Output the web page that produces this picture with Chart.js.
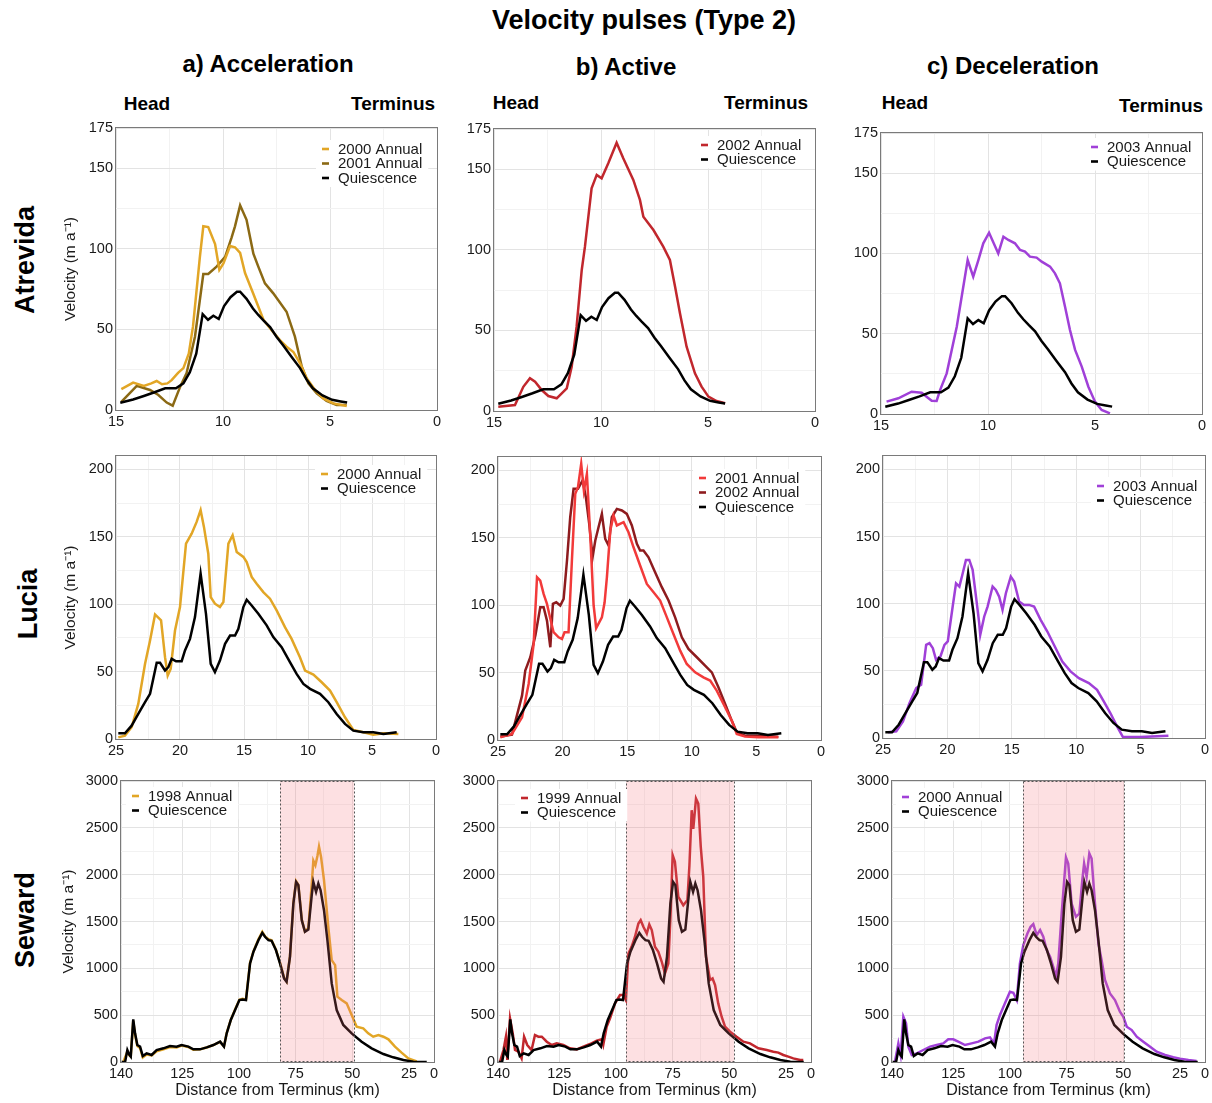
<!DOCTYPE html>
<html>
<head>
<meta charset="utf-8">
<script src="https://cdn.jsdelivr.net/npm/chart.js@4.4.1/dist/chart.umd.min.js"></script>
<style>
  body { margin: 0; background: #fff; }
  #fig { position: relative; width: 1212px; height: 1103px; overflow: hidden;
         font-family: "Liberation Sans", Arimo, Arial, sans-serif; color: #000; }
  .lbl { position: absolute; font-weight: bold; white-space: nowrap; transform: translate(-50%, -50%); }
  .side { transform: translate(-50%, -50%) rotate(-90deg); font-size: 27px; }
  canvas { position: absolute; }
</style>
</head>
<body>
<div id="fig">
  <div class="lbl" style="left:644px;top:20px;font-size:27px">Velocity pulses (Type 2)</div>
  <div class="lbl" style="left:268px;top:64px;font-size:24px">a) Acceleration</div>
  <div class="lbl" style="left:626px;top:67px;font-size:24px">b) Active</div>
  <div class="lbl" style="left:1013px;top:66px;font-size:24px">c) Deceleration</div>
  <div class="lbl" style="left:147px;top:104px;font-size:19px">Head</div>
  <div class="lbl" style="left:393px;top:104px;font-size:19px">Terminus</div>
  <div class="lbl" style="left:516px;top:103px;font-size:19px">Head</div>
  <div class="lbl" style="left:766px;top:103px;font-size:19px">Terminus</div>
  <div class="lbl" style="left:905px;top:103px;font-size:19px">Head</div>
  <div class="lbl" style="left:1161px;top:106px;font-size:19px">Terminus</div>
  <div class="lbl side" style="left:25px;top:260px">Atrevida</div>
  <div class="lbl side" style="left:28px;top:604px">Lucia</div>
  <div class="lbl side" style="left:25px;top:920px">Seward</div>
</div>
<script>
const fontFamily = '"Liberation Sans", Arimo, Arial, sans-serif';

// ---------- Atrevida (distance from terminus in km, velocity in m/a) ----------
const atrevidaQuiescenceKm = [14.8, 14.2, 13.7, 13.2, 12.7, 12.2, 11.85, 11.55, 11.25, 10.95, 10.7, 10.45, 10.2, 9.95, 9.65, 9.35, 9.2, 8.9, 8.6, 8.35, 8.1, 7.8, 7.5, 7.2, 6.8, 6.4, 6.1, 5.8, 5.35, 4.9, 4.5, 4.2];
const atrevidaQuiescenceVel = [4.5, 6.5, 8.7, 11, 13.5, 13.5, 16.5, 23.5, 35, 59.5, 56, 58.5, 56.5, 64.5, 70, 73.4, 73.4, 69, 63, 59, 55.5, 51.5, 45.5, 40.3, 33, 26, 19, 13.5, 9, 6.3, 5.3, 4.6];

const atrevida2000Km = [14.75, 14.2, 13.7, 13.35, 13.1, 12.85, 12.6, 12.4, 12.1, 11.85, 11.6, 11.4, 11.08, 10.92, 10.69, 10.37, 10.17, 9.98, 9.67, 9.44, 9.2, 8.97, 8.58, 8.11, 7.73, 7.34, 7.03, 6.71, 6.4, 6.09, 5.7, 5.31, 4.84, 4.22];
const atrevida2000Vel = [13, 17, 15, 16.5, 18, 16, 16.5, 18.5, 23, 26, 35, 52, 95, 114, 113.5, 103, 87, 91, 101.8, 101, 97.5, 85, 72, 56, 49.5, 43.4, 39.3, 36, 29, 19.7, 12.4, 7.2, 4.1, 2.5];

const atrevida2001Km = [14.75, 14.03, 13.41, 13.02, 12.63, 12.35, 12.0, 11.7, 11.31, 10.92, 10.69, 10.3, 9.9, 9.6, 9.44, 9.2, 8.9, 8.58, 8.35, 8.04, 7.65, 7.03, 6.64, 6.32, 6.01, 5.62, 5.16, 4.69, 4.22];
const atrevida2001Vel = [5, 15, 12.4, 9.3, 4.6, 2.7, 14.5, 23, 45.5, 84.4, 84.4, 89, 95, 107, 114, 127, 118, 97, 89, 78.6, 72.4, 61, 45.5, 27, 16.5, 10.3, 5.6, 3.1, 3.1];

const atrevida2002Km = [14.8, 14.02, 13.63, 13.32, 13.08, 12.77, 12.46, 12.07, 11.6, 11.37, 11.14, 10.9, 10.75, 10.44, 10.2, 9.97, 9.66, 9.27, 8.96, 8.49, 8.18, 8.02, 7.55, 7.09, 6.78, 6.54, 6.31, 6.0, 5.61, 5.3, 4.98, 4.6, 4.2];
const atrevida2002Vel = [2.7, 3.7, 15, 20.3, 18.2, 13, 9.3, 7.9, 14.1, 27.5, 52.3, 87.5, 102, 138.2, 146.5, 144.4, 153.7, 166.5, 156.8, 143.4, 131, 120.6, 112.3, 102, 93.7, 77.2, 60.6, 39.9, 23.4, 15.1, 8.9, 6.2, 4.8];

const atrevida2003Km = [14.74, 14.19, 13.57, 13.1, 12.87, 12.63, 12.4, 12.24, 11.93, 11.46, 10.95, 10.69, 10.45, 10.22, 9.95, 9.52, 9.28, 9.05, 8.74, 8.5, 8.27, 8.04, 7.73, 7.49, 7.1, 6.87, 6.64, 6.4, 6.17, 5.93, 5.62, 5.31, 5.0, 4.69, 4.3];
const atrevida2003Vel = [7.7, 9.8, 13.9, 13.3, 10.8, 8.3, 8.1, 14.9, 25.3, 54.4, 95.9, 85.5, 95.9, 106.3, 112.9, 100, 110.4, 108.4, 106.3, 102.1, 101.1, 98, 97.4, 94.9, 91.8, 87.6, 81.4, 66.8, 52.3, 39.9, 29.5, 17, 7.7, 2.5, 0.4];

// ---------- Lucia ----------
const luciaQuiescenceKm = [24.82, 24.3, 23.78, 23.26, 22.73, 22.34, 22.08, 21.82, 21.56, 21.17, 20.91, 20.65, 20.31, 19.87, 19.61, 19.22, 18.83, 18.39, 17.97, 17.6, 17.27, 16.88, 16.48, 16.09, 15.7, 15.44, 15.05, 14.79, 14.4, 13.88, 13.23, 12.71, 12.06, 11.41, 10.89, 10.36, 9.84, 9.06, 8.41, 7.76, 7.11, 6.46, 5.68, 4.9, 4.11, 3.07];
const luciaQuiescenceVel = [4.2, 4.2, 9.9, 18.6, 27.3, 33.5, 45, 56.5, 56.5, 50.8, 53.3, 59.5, 57.7, 57.7, 65.7, 74.3, 90.5, 122.7, 92.9, 55.8, 49.6, 58.2, 70.6, 76.8, 76.8, 81.8, 97.9, 103.3, 99.1, 92.9, 84.3, 75.6, 68.2, 57, 48.3, 40.9, 37.2, 33.5, 27.3, 18.6, 11.2, 6.2, 5, 5, 3.7, 5];

const lucia2000Km = [24.82, 24.3, 23.78, 23.26, 22.73, 22.34, 21.95, 21.48, 21.17, 20.96, 20.73, 20.39, 20.0, 19.53, 19.09, 18.7, 18.39, 18.13, 17.79, 17.6, 17.27, 16.88, 16.61, 16.22, 15.89, 15.57, 15.05, 14.79, 14.4, 14.01, 13.49, 12.97, 12.45, 11.8, 11.28, 10.63, 10.23, 9.58, 8.93, 8.28, 7.76, 7.11, 6.46, 5.68, 4.9, 4.11, 2.94];
const lucia2000Vel = [1.2, 2.5, 8.7, 26, 55.8, 73.1, 92.4, 88, 60.7, 47.1, 52, 80.5, 97.9, 145, 152.4, 161.1, 169.8, 157.4, 137.5, 105.3, 100.4, 97.9, 101.6, 145, 151.2, 138.8, 135.1, 131.3, 120.2, 115.2, 109, 104.1, 95.4, 83, 74.3, 60.7, 50.8, 47.8, 42.1, 35.9, 27.3, 16.1, 6.7, 5, 3.2, 4.2, 3.7];

const lucia2001Km = [24.82, 23.92, 23.14, 22.63, 22.24, 21.98, 21.73, 21.47, 21.21, 20.95, 20.7, 20.31, 20.05, 19.85, 19.54, 19.28, 19.02, 18.81, 18.56, 18.35, 18.12, 17.85, 17.6, 17.4, 16.96, 16.75, 16.57, 16.31, 16.06, 15.8, 15.28, 14.9, 14.51, 14.0, 13.48, 12.96, 12.45, 11.93, 11.42, 10.9, 10.39, 9.74, 9.1, 8.58, 8.07, 7.42, 6.91, 6.52, 5.88, 4.85, 3.3];
const lucia2001Vel = [2, 4.5, 16.8, 41.6, 71.3, 120.8, 118.3, 108.4, 101, 89.9, 80, 76.2, 75, 80, 80, 133.2, 182.7, 187.6, 205, 185, 197.5, 150, 100, 83, 91, 102, 120.8, 155.4, 166.6, 159.2, 161.6, 154.2, 143, 129.5, 115.8, 109.7, 103.5, 91, 78.7, 66.3, 56.4, 50.2, 46.5, 44.1, 36.6, 24.3, 14.4, 4.5, 2.5, 2, 2];

const lucia2002Km = [24.82, 23.92, 23.14, 22.89, 22.5, 22.1, 21.73, 21.47, 21.21, 20.95, 20.75, 20.49, 20.18, 19.92, 19.66, 19.41, 19.15, 18.81, 18.45, 18.2, 17.94, 17.68, 17.47, 17.22, 16.96, 16.7, 16.44, 16.19, 15.8, 15.41, 15.03, 14.64, 14.25, 14.0, 13.74, 13.35, 12.84, 12.32, 11.8, 11.29, 10.77, 10.26, 9.61, 8.97, 8.45, 7.94, 7.42, 6.91, 6.52, 5.88, 4.85, 3.3];
const lucia2002Vel = [2.5, 4, 32.9, 51.5, 61.4, 78, 98.5, 98.5, 88.6, 68.8, 101, 102.2, 99.8, 104.7, 133.2, 165.3, 186.4, 186.4, 192.6, 180.2, 160.4, 135.6, 148, 157.9, 167.8, 149.3, 144.3, 165.3, 171.5, 170.3, 167.8, 159.2, 145.5, 140.6, 140.6, 135.6, 124.5, 113.4, 103.5, 91, 76.2, 67.6, 61.4, 55.2, 50.2, 39.1, 26.7, 14.4, 5.7, 3.2, 3.2, 2.5];

const lucia2003Km = [24.61, 23.97, 23.45, 22.94, 22.42, 22.04, 21.65, 21.39, 21.13, 20.88, 20.54, 20.23, 19.97, 19.59, 19.33, 19.07, 18.81, 18.56, 18.3, 18.04, 17.78, 17.53, 17.45, 17.14, 16.88, 16.49, 16.24, 15.98, 15.72, 15.46, 15.08, 14.82, 14.43, 14.05, 13.66, 13.27, 12.76, 12.24, 11.73, 11.08, 10.44, 9.79, 9.02, 8.38, 7.86, 7.35, 6.83, 6.37, 5.03, 2.84];
const lucia2003Vel = [4.2, 5, 12.4, 26, 37.2, 39.7, 69.4, 70.6, 66.9, 58.2, 60.7, 69.4, 71.9, 97.9, 115.2, 112.8, 122.7, 132.6, 132.6, 125.2, 105.3, 85.5, 76.8, 90.5, 97.9, 112.8, 110.3, 105.3, 95.4, 107.8, 120.2, 116.5, 101.6, 99.1, 99.1, 97.9, 88, 79.3, 69.4, 57, 49.6, 44.6, 40.9, 35.9, 27.3, 18.6, 8.7, 0.7, 0.7, 1.7];

// ---------- Seward ----------
const sewardQuiescenceKm = [151.7, 150.2, 149.2, 148.3, 147.7, 146.6, 145.8, 144.8, 143.6, 142.4, 140.7, 138.5, 136.3, 133.3, 130.4, 127.5, 125.3, 122.3, 120.1, 117.2, 114.2, 111.3, 108.3, 106.6, 105.4, 103.6, 101.7, 99.8, 98.4, 96.9, 95.1, 93.6, 91.4, 89.7, 88.5, 87.0, 85.6, 83.7, 81.9, 80.1, 79.0, 77.5, 76.0, 74.8, 73.8, 72.3, 70.9, 69.4, 67.9, 67.2, 66.0, 65.0, 64.0, 62.5, 61.0, 59.1, 56.9, 54.0, 50.3, 45.9, 41.5, 36.3, 32.0, 27.5, 23.1, 17.2];
const sewardQuiescenceVel = [0, 0, 128, 75, 57, 455, 306, 181, 164, 64, 92, 75, 128, 146, 171, 164, 181, 164, 135, 135, 156, 181, 217, 164, 306, 448, 555, 661, 668, 661, 1052, 1177, 1301, 1379, 1337, 1301, 1294, 1195, 1052, 892, 857, 1123, 1692, 1923, 1888, 1514, 1390, 1415, 1781, 1923, 1817, 1905, 1834, 1621, 1301, 839, 555, 395, 306, 217, 146, 85, 50, 21, 4, 0];

const seward1998Km = [151.0, 149.2, 148.3, 147.7, 146.6, 145.8, 144.8, 143.6, 142.4, 140.7, 138.5, 136.3, 133.3, 130.4, 127.5, 125.3, 122.3, 120.1, 117.2, 114.2, 111.3, 108.3, 106.6, 105.4, 103.6, 101.7, 99.8, 98.4, 96.9, 95.1, 93.6, 91.4, 89.7, 88.5, 87.0, 85.6, 83.7, 81.9, 80.1, 79.0, 77.5, 76.0, 74.8, 73.8, 72.3, 70.9, 69.4, 67.9, 67.2, 66.3, 65.4, 64.7, 63.8, 62.5, 60.6, 59.1, 57.6, 56.6, 54.7, 52.5, 50.3, 48.1, 45.2, 43.0, 40.8, 38.5, 36.3, 34.1, 31.2, 28.3, 25.3, 21.6];
const seward1998Vel = [0, 110, 70, 60, 440, 290, 170, 150, 50, 80, 70, 115, 135, 160, 155, 175, 160, 130, 135, 155, 180, 215, 165, 310, 450, 560, 665, 675, 665, 1060, 1180, 1310, 1390, 1340, 1310, 1300, 1200, 1060, 900, 860, 1130, 1700, 1930, 1890, 1520, 1395, 1430, 1900, 2150, 2100, 2200, 2300, 2190, 1941, 1443, 1088, 1034, 697, 661, 626, 501, 377, 359, 306, 270, 288, 270, 242, 164, 100, 39, 7];

const seward1999Km = [151.1, 149.6, 148.5, 147.9, 146.7, 145.5, 144.5, 143.0, 141.6, 140.5, 139.1, 137.2, 135.7, 134.2, 132.7, 130.5, 128.3, 126.1, 123.2, 120.3, 117.3, 114.4, 111.4, 108.5, 106.3, 105.6, 104.1, 102.6, 100.4, 98.2, 96.7, 95.6, 94.5, 93.1, 91.6, 90.1, 89.1, 87.9, 86.4, 85.3, 84.2, 82.8, 81.3, 79.8, 78.4, 76.9, 75.9, 75.0, 74.0, 72.5, 70.3, 68.5, 67.6, 66.6, 65.9, 64.7, 63.7, 62.6, 61.5, 60.3, 58.5, 57.4, 56.3, 54.9, 53.4, 51.9, 49.7, 46.8, 43.8, 40.9, 37.2, 33.5, 30.6, 28.4, 26.2, 24.0, 21.8, 18.8, 17.4];
const seward1999Vel = [4, 128, 270, 21, 466, 306, 128, 110, 39, 270, 181, 128, 288, 270, 270, 217, 181, 199, 181, 146, 135, 164, 192, 228, 242, 181, 377, 466, 626, 715, 715, 661, 1159, 1230, 1337, 1479, 1514, 1443, 1372, 1468, 1408, 1230, 1177, 1070, 946, 1052, 1585, 2208, 2137, 1763, 1674, 1728, 2100, 2688, 2490, 2812, 2760, 2297, 1977, 1123, 875, 892, 821, 626, 483, 377, 324, 270, 217, 199, 146, 128, 110, 100, 75, 57, 39, 21, 21];

const seward2000Km = [150.7, 149.2, 148.2, 147.0, 145.8, 144.8, 143.3, 141.1, 138.2, 135.2, 132.3, 129.4, 127.2, 125.0, 122.8, 119.8, 116.9, 113.9, 111.0, 108.8, 107.0, 105.9, 104.4, 102.2, 100.0, 98.5, 97.0, 95.6, 94.1, 92.3, 90.9, 89.7, 88.2, 86.7, 85.3, 83.8, 82.3, 80.9, 79.7, 78.7, 77.2, 75.3, 74.3, 72.8, 70.9, 69.4, 68.1, 67.3, 66.2, 65.0, 64.0, 62.5, 61.0, 59.6, 58.1, 55.9, 53.7, 51.5, 50.0, 48.5, 46.3, 44.1, 41.2, 38.2, 35.3, 31.6, 28.0, 25.0, 21.3, 17.7];
const seward2000Vel = [4, 199, 75, 483, 412, 164, 75, 92, 128, 164, 181, 199, 242, 242, 217, 181, 199, 217, 252, 263, 199, 395, 501, 626, 750, 739, 661, 1052, 1248, 1372, 1443, 1472, 1354, 1408, 1337, 1195, 1123, 1017, 910, 1052, 1585, 2183, 2119, 1692, 1550, 1585, 1941, 2119, 1977, 2226, 2172, 1692, 1266, 1088, 875, 732, 661, 537, 483, 377, 341, 270, 217, 164, 110, 75, 50, 36, 21, 11];

// pulse zones shaded on the Seward panels (km from terminus)
const sewardZone1998 = [82, 49.3];
const sewardZone1999 = [95.6, 47.9];
const sewardZone2000 = [94.4, 49.7];

// ---------- axis ticks ----------
const atrevidaXTicks = [15, 10, 5, 0];
const atrevidaXMinor = [12.5, 7.5, 2.5];
const atrevidaYTicks = [0, 50, 100, 150, 175];
const atrevidaYMinor = [25, 75, 125];

const luciaXTicks = [25, 20, 15, 10, 5, 0];
const luciaXMinor = [22.5, 17.5, 12.5, 7.5, 2.5];
const luciaYTicks = [0, 50, 100, 150, 200];
const luciaYMinor = [25, 75, 125, 175];

// the outermost Seward labels sit on the panel edges
const sewardXRange = [14, 152];
const sewardXTicks = [152, 125, 100, 75, 50, 25, 14];
const sewardXLabels = ['140', '125', '100', '75', '50', '25', '0'];
const sewardXMinor = [137.5, 112.5, 87.5, 62.5, 37.5];
const sewardYTicks = [0, 500, 1000, 1500, 2000, 2500, 3000];
const sewardYMinor = [250, 750, 1250, 1750, 2250, 2750];

const black = '#000000';
const gold = '#E2A626';
const darkGold = '#8B6914';
const red = '#C1272D';
const brightRed = '#F23A3A';
const darkRed = '#8E1B1E';
const purple = '#A040D8';

function pts(xs, ys) {
  return xs.map((x, i) => ({ x: x, y: ys[i] }));
}

function series(label, color, xs, ys, order) {
  return {
    label: label, data: pts(xs, ys), borderColor: color, backgroundColor: color,
    borderWidth: 2.5, pointRadius: 0, tension: 0, fill: false, order: order
  };
}

function axis(range, major, minor, labels, extra) {
  const labelOf = new Map(major.map((v, i) => [v, labels ? labels[i] : String(v)]));
  return Object.assign({
    type: 'linear',
    min: range[0],
    max: range[1],
    afterBuildTicks: s => {
      s.ticks = major.concat(minor).sort((a, b) => a - b).map(v => ({ value: v }));
    },
    ticks: {
      autoSkip: false, maxRotation: 0, padding: 3, color: '#1a1a1a',
      font: { family: fontFamily, size: 14.5 },
      callback: v => labelOf.has(v) ? labelOf.get(v) : ''
    },
    grid: {
      drawTicks: false, lineWidth: 1,
      color: c => (c.tick && labelOf.has(c.tick.value)) ? '#e3e3e3' : '#f2f2f2'
    },
    border: { display: false }
  }, extra);
}

// frame, shaded zone and inset legend
const panelDecor = {
  id: 'panelDecor',
  afterDatasetsDraw(chart, args, opts) {
    const ctx = chart.ctx;
    const area = chart.chartArea;
    const xs = chart.scales.x;
    ctx.save();
    if (opts.zone) {
      const p1 = xs.getPixelForValue(opts.zone[0]);
      const p2 = xs.getPixelForValue(opts.zone[1]);
      const left = Math.round(Math.min(p1, p2));
      const w = Math.round(Math.abs(p2 - p1));
      ctx.fillStyle = 'rgba(244, 112, 122, 0.22)';
      ctx.fillRect(left, area.top, w, area.bottom - area.top);
      ctx.setLineDash([2, 2]);
      ctx.strokeStyle = '#555';
      ctx.lineWidth = 1;
      ctx.strokeRect(left + 0.5, area.top + 0.5, w, area.bottom - area.top - 1);
      ctx.setLineDash([]);
    }
    ctx.strokeStyle = '#7a7a7a';
    ctx.lineWidth = 1;
    ctx.strokeRect(Math.round(area.left) - 0.5, Math.round(area.top) - 0.5,
      Math.round(area.right - area.left) + 1, Math.round(area.bottom - area.top) + 1);

    const sets = chart.data.datasets;
    const tx = area.left + opts.legendAt[0];
    const ty = area.top + opts.legendAt[1];
    const step = 14.5;
    ctx.font = '15px ' + fontFamily;
    const widest = Math.max(...sets.map(d => ctx.measureText(d.label).width));
    ctx.fillStyle = '#fff';
    ctx.fillRect(tx - 22, ty - 9, widest + 28, (sets.length - 1) * step + 18);
    sets.forEach((d, i) => {
      const y = ty + i * step;
      ctx.strokeStyle = d.borderColor;
      ctx.lineWidth = 2.6;
      ctx.beginPath();
      ctx.moveTo(tx - 16, y);
      ctx.lineTo(tx - 9, y);
      ctx.stroke();
      ctx.fillStyle = '#1a1a1a';
      ctx.textBaseline = 'middle';
      ctx.textAlign = 'left';
      ctx.fillText(d.label, tx, y + 0.5);
    });
    ctx.restore();
  }
};

const yTitle = {
  display: true, text: 'Velocity (m a\u207B\u00B9)', color: '#1a1a1a',
  font: { family: fontFamily, size: 15.5 }, padding: { top: 5, bottom: 0 }
};
const xTitle = {
  display: true, text: 'Distance from Terminus (km)', color: '#1a1a1a',
  font: { family: fontFamily, size: 16 }, padding: { top: 0, bottom: 2 }
};

const atrX = () => axis([0, 15], atrevidaXTicks, atrevidaXMinor, null, { reverse: true });
const atrY = () => axis([0, 175], atrevidaYTicks, atrevidaYMinor, null, {});
const lucX = () => axis([0, 25], luciaXTicks, luciaXMinor, null, { reverse: true });
const lucY = () => axis([0, 210], luciaYTicks, luciaYMinor, null, {});
const sewX = () => axis(sewardXRange, sewardXTicks, sewardXMinor, sewardXLabels, { reverse: true, title: xTitle });
const sewY = () => axis([0, 3000], sewardYTicks, sewardYMinor, null, {});

const panels = [
  { box: [116, 128, 437, 410], yW: 60, xH: 24, x: atrX(), y: atrY(), yTitle: true, legendAt: [222, 21],
    datasets: [series('2000 Annual', gold, atrevida2000Km, atrevida2000Vel, 1),
               series('2001 Annual', darkGold, atrevida2001Km, atrevida2001Vel, 1),
               series('Quiescence', black, atrevidaQuiescenceKm, atrevidaQuiescenceVel, 0)] },
  { box: [494, 129, 815, 411], yW: 50, xH: 24, x: atrX(), y: atrY(), legendAt: [223, 16],
    datasets: [series('2002 Annual', red, atrevida2002Km, atrevida2002Vel, 1),
               series('Quiescence', black, atrevidaQuiescenceKm, atrevidaQuiescenceVel, 0)] },
  { box: [881, 133, 1202, 414], yW: 50, xH: 24, x: atrX(), y: atrY(), legendAt: [226, 14],
    datasets: [series('2003 Annual', purple, atrevida2003Km, atrevida2003Vel, 1),
               series('Quiescence', black, atrevidaQuiescenceKm, atrevidaQuiescenceVel, 0)] },

  { box: [116, 456, 436, 739], yW: 60, xH: 24, x: lucX(), y: lucY(), yTitle: true, legendAt: [221, 18],
    datasets: [series('2000 Annual', gold, lucia2000Km, lucia2000Vel, 1),
               series('Quiescence', black, luciaQuiescenceKm, luciaQuiescenceVel, 0)] },
  { box: [498, 457, 821, 740], yW: 50, xH: 24, x: lucX(), y: lucY(), legendAt: [217, 21],
    datasets: [series('2001 Annual', brightRed, lucia2001Km, lucia2001Vel, 1),
               series('2002 Annual', darkRed, lucia2002Km, lucia2002Vel, 1),
               series('Quiescence', black, luciaQuiescenceKm, luciaQuiescenceVel, 0)] },
  { box: [883, 456, 1205, 738], yW: 50, xH: 24, x: lucX(), y: lucY(), legendAt: [230, 30],
    datasets: [series('2003 Annual', purple, lucia2003Km, lucia2003Vel, 1),
               series('Quiescence', black, luciaQuiescenceKm, luciaQuiescenceVel, 0)] },

  { box: [121, 781, 434, 1062], yW: 67, xH: 40, x: sewX(), y: sewY(), yTitle: true, legendAt: [27, 15], zone: sewardZone1998,
    datasets: [series('1998 Annual', gold, seward1998Km, seward1998Vel, 1),
               series('Quiescence', black, sewardQuiescenceKm, sewardQuiescenceVel, 0)] },
  { box: [498, 781, 811, 1062], yW: 50, xH: 40, x: sewX(), y: sewY(), legendAt: [39, 17], zone: sewardZone1999,
    datasets: [series('1999 Annual', red, seward1999Km, seward1999Vel, 1),
               series('Quiescence', black, sewardQuiescenceKm, sewardQuiescenceVel, 0)] },
  { box: [892, 781, 1205, 1062], yW: 50, xH: 40, x: sewX(), y: sewY(), legendAt: [26, 16], zone: sewardZone2000,
    datasets: [series('2000 Annual', purple, seward2000Km, seward2000Vel, 1),
               series('Quiescence', black, sewardQuiescenceKm, sewardQuiescenceVel, 0)] }
];

const fig = document.getElementById('fig');
const padTop = 12, padRight = 12;

panels.forEach(p => {
  const [L, T, R, B] = p.box;
  const canvas = document.createElement('canvas');
  const w = p.yW + (R - L) + padRight;
  const h = padTop + (B - T) + p.xH;
  canvas.width = w;
  canvas.height = h;
  canvas.style.left = (L - p.yW) + 'px';
  canvas.style.top = (T - padTop) + 'px';
  canvas.style.width = w + 'px';
  canvas.style.height = h + 'px';
  fig.appendChild(canvas);

  p.x.afterFit = s => { s.height = p.xH; };
  p.y.afterFit = s => { s.width = p.yW; };
  if (p.yTitle) p.y.title = yTitle;

  new Chart(canvas.getContext('2d'), {
    type: 'line',
    data: { datasets: p.datasets },
    options: {
      responsive: false,
      animation: false,
      devicePixelRatio: 1,
      layout: { padding: { top: padTop, right: padRight, left: 0, bottom: 0 } },
      scales: { x: p.x, y: p.y },
      plugins: {
        legend: { display: false },
        tooltip: { enabled: false },
        panelDecor: { legendAt: p.legendAt, zone: p.zone || null }
      }
    },
    plugins: [panelDecor]
  });
});
</script>
</body>
</html>
